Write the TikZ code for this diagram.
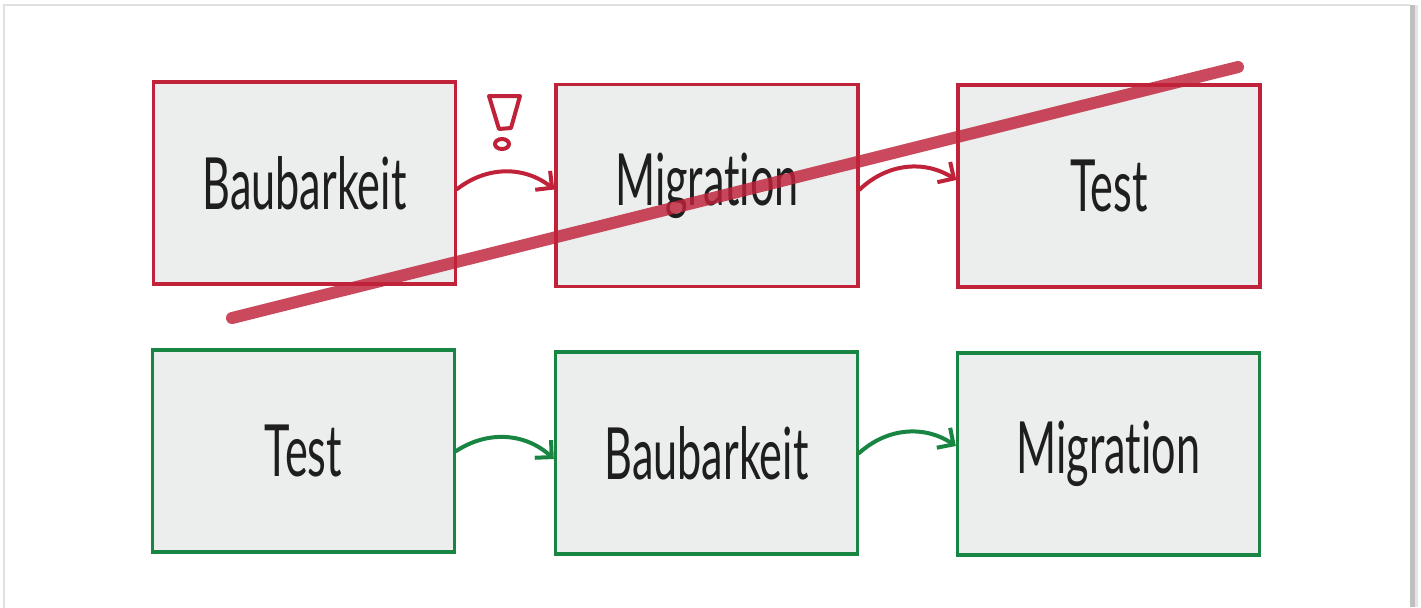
\documentclass[tikz,border=0pt]{standalone}
\usepackage{fontspec}
\setmainfont[Ligatures=NoCommon]{Lato}
\usetikzlibrary{arrows.meta}
\definecolor{inkred}{RGB}{192,34,58}
\definecolor{inkgreen}{RGB}{24,134,66}
\definecolor{paper}{RGB}{236,237,237}
\definecolor{inkblack}{RGB}{30,30,30}
\newcommand{\hw}[1]{\scalebox{0.6}[1]{\fontsize{36}{40}\selectfont #1}}
\tikzset{
  stage/.style={draw=#1, line width=1.7pt, fill=paper, minimum width=151pt,
    minimum height=101pt, inner sep=0pt, text=inkblack},
  flow/.style={draw=#1, line width=2pt, line cap=round,
    -{Straight Barb[length=6pt,width=12pt,line width=2pt]}},
}
\begin{document}
\begin{tikzpicture}[x=0.5pt,y=-0.5pt]
  \useasboundingbox (0,0) rectangle (1421,607);
  % card and its shadow
  \fill[white] (0,0) rectangle (1421,607);
  \draw[black!12, line width=1pt] (4,620) -- (4,5) -- (1410,5);
  \fill[black!25] (1410,5) rectangle (1415,607);
  \fill[black!10] (1415,5) rectangle (1418,607);

  % first order (struck out)
  \node[stage=inkred] (r1) at (304.5,183) {\hw{Baubarkeit}};
  \node[stage=inkred] (r2) at (707,185.5) {\hw{Migration}};
  \node[stage=inkred] (r3) at (1109,186) {\hw{Test}};
  \draw[flow=inkred] ([yshift=-3]r1.east) to[bend left=38] ([yshift=-2]r2.west);
  \draw[flow=inkred] ([yshift=-2]r2.east) to[bend left=38] ([yshift=3]r3.west);

  % warning sign
  \draw[inkred, line width=2pt, line join=round]
    (489,96) -- (520,96) -- (511,128) -- (499,129) -- cycle;
  \draw[inkred, line width=2pt] (502,144) ellipse (7 and 5);

  % second order
  \node[stage=inkgreen] (g1) at (303.5,451) {\hw{Test}};
  \node[stage=inkgreen] (g2) at (706.5,453) {\hw{Baubarkeit}};
  \node[stage=inkgreen] (g3) at (1108.5,454) {\hw{Migration}};
  \draw[flow=inkgreen] ([yshift=0]g1.east) to[bend left=38] ([yshift=-3]g2.west);
  \draw[flow=inkgreen] ([yshift=0]g2.east) to[bend left=38] ([yshift=4]g3.west);

  % strike-through
  \coordinate (s0) at (232,318);
  \coordinate (s1) at (1238,67);
  \draw[inkred, opacity=0.82, line width=6pt, line cap=round] (s0) -- (s1);
\end{tikzpicture}
\end{document}
